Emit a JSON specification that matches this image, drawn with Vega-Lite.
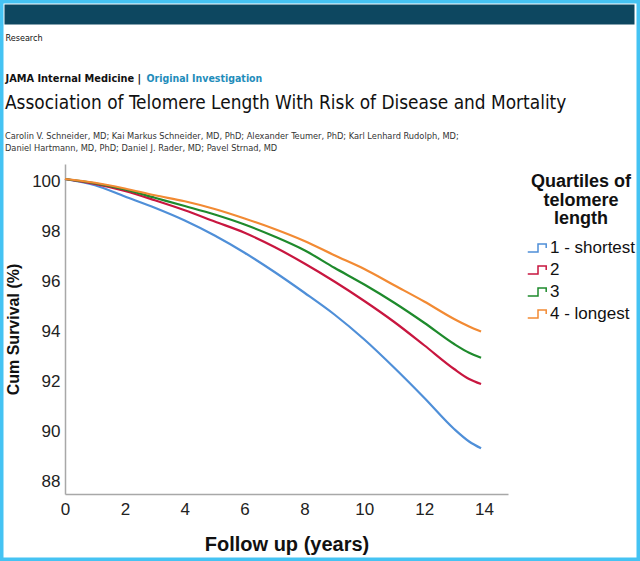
{
  "$schema": "https://vega.github.io/schema/vega-lite/v6.json",
  "width": 640,
  "height": 561,
  "padding": 0,
  "autosize": {"type": "none"},
  "background": "white",
  "view": {"stroke": "#45c3f3", "strokeWidth": 7, "fill": "white"},
  "title": {
    "text": "Association of Telomere Length With Risk of Disease and Mortality",
    "subtitle": ["Carolin V. Schneider, MD; Kai Markus Schneider, MD, PhD; Alexander Teumer, PhD; Karl Lenhard Rudolph, MD;", "Daniel Hartmann, MD, PhD; Daniel J. Rader, MD; Pavel Strnad, MD"],
    "anchor": "start",
    "frame": "group",
    "orient": "top",
    "offset": -153,
    "dx": 5,
    "font": "Liberation Sans Narrow, DejaVu Sans Condensed, Roboto, sans-serif",
    "fontSize": 18.9,
    "fontWeight": "normal",
    "color": "#111111",
    "subtitleFont": "Liberation Sans Narrow, DejaVu Sans Condensed, Roboto, sans-serif",
    "subtitleFontSize": 9.2,
    "subtitleColor": "#333333",
    "subtitlePadding": 19,
    "subtitleLineHeight": 12
  },
  "data": {
    "values": [
      {"year": 0, "1 - shortest": 100.1, "2": 100.1, "3": 100.1, "4 - longest": 100.1},
      {"year": 1, "1 - shortest": 99.85, "2": 99.9, "3": 99.93, "4 - longest": 99.95},
      {"year": 2, "1 - shortest": 99.4, "2": 99.62, "3": 99.68, "4 - longest": 99.72},
      {"year": 3, "1 - shortest": 98.95, "2": 99.25, "3": 99.35, "4 - longest": 99.45},
      {"year": 4, "1 - shortest": 98.44, "2": 98.85, "3": 99.02, "4 - longest": 99.21},
      {"year": 5, "1 - shortest": 97.84, "2": 98.4, "3": 98.68, "4 - longest": 98.9},
      {"year": 6, "1 - shortest": 97.15, "2": 97.95, "3": 98.28, "4 - longest": 98.52},
      {"year": 7, "1 - shortest": 96.38, "2": 97.38, "3": 97.8, "4 - longest": 98.1},
      {"year": 8, "1 - shortest": 95.55, "2": 96.72, "3": 97.25, "4 - longest": 97.62},
      {"year": 9, "1 - shortest": 94.68, "2": 96.0, "3": 96.55, "4 - longest": 97.05},
      {"year": 10, "1 - shortest": 93.68, "2": 95.22, "3": 95.88, "4 - longest": 96.5},
      {"year": 11, "1 - shortest": 92.55, "2": 94.38, "3": 95.15, "4 - longest": 95.85},
      {"year": 12, "1 - shortest": 91.35, "2": 93.45, "3": 94.35, "4 - longest": 95.2},
      {"year": 13, "1 - shortest": 90.1, "2": 92.5, "3": 93.5, "4 - longest": 94.5},
      {"year": 13.5, "1 - shortest": 89.6, "2": 92.1, "3": 93.15, "4 - longest": 94.2},
      {"year": 13.9, "1 - shortest": 89.33, "2": 91.9, "3": 92.95, "4 - longest": 94.0}
    ]
  },
  "transform": [
    {"fold": ["1 - shortest", "2", "3", "4 - longest"], "as": ["quartile", "surv"]}
  ],
  "resolve": {"scale": {"x": "independent", "y": "independent"}, "axis": {"x": "independent", "y": "independent"}},
  "layer": [
    {
      "mark": {"type": "line", "strokeWidth": 2.2, "interpolate": "monotone"},
      "encoding": {
        "x": {
          "field": "year", "type": "quantitative",
          "scale": {"domain": [0, 14.8], "range": [65, 508], "nice": false, "zero": false},
          "axis": {
            "orient": "bottom", "offset": -67, "values": [0, 2, 4, 6, 8, 10, 12, 14],
            "grid": false, "ticks": false, "labelFlush": false,
            "domainColor": "#a8a8a8", "domainWidth": 1.5,
            "labelFont": "Liberation Sans", "labelFontSize": 17, "labelColor": "#222222", "labelPadding": 7,
            "title": "Follow up (years)", "titleFont": "Liberation Sans", "titleFontSize": 20, "titleFontWeight": "bold", "titleColor": "#111111", "titlePadding": 17
          }
        },
        "y": {
          "field": "surv", "type": "quantitative",
          "scale": {"domain": [87.5, 100.7], "range": [494, 164], "nice": false, "zero": false},
          "axis": {
            "orient": "left", "offset": -65, "values": [88, 90, 92, 94, 96, 98, 100],
            "grid": false, "ticks": false,
            "domainColor": "#a8a8a8", "domainWidth": 1.5,
            "labelFont": "Liberation Sans", "labelFontSize": 17, "labelColor": "#222222", "labelPadding": 5,
            "title": "Cum Survival (%)", "titleFont": "Liberation Sans", "titleFontSize": 16, "titleFontWeight": "bold", "titleColor": "#111111", "titlePadding": 10
          }
        },
        "color": {
          "field": "quartile", "type": "nominal",
          "scale": {"domain": ["1 - shortest", "2", "3", "4 - longest"], "range": ["#4f8fd8", "#c8163f", "#1e8a2c", "#f28a33"]},
          "legend": {
            "orient": "none", "legendX": 527, "legendY": 173,
            "title": ["Quartiles of", "telomere", "length"],
            "titleFont": "Liberation Sans", "titleFontSize": 18, "titleFontWeight": "bold", "titleColor": "#111111",
            "titleAlign": "center", "titleAnchor": "middle", "titleLineHeight": 18.5, "titlePadding": 9,
            "labelFont": "Liberation Sans", "labelFontSize": 17, "labelColor": "#111111", "labelOffset": 1,
            "symbolType": "M-1,0.4L0,0.4L0,-0.4L0.8,-0.4L0.8,0", "symbolSize": 420, "symbolStrokeWidth": 1.5,
            "symbolFillColor": "transparent", "rowPadding": 3, "padding": 0
          }
        }
      }
    },
    {
      "mark": {"type": "point", "opacity": 0},
      "encoding": {
        "x": {
          "field": "year", "type": "quantitative",
          "scale": {"domain": [0, 14], "range": [4, 634], "nice": false, "zero": false},
          "axis": {
            "orient": "top", "offset": -14, "values": [0],
            "domain": true, "domainColor": "#0d4760", "domainWidth": 20, "domainCap": "butt",
            "grid": false, "ticks": false, "labelFlush": false,
            "labelExpr": "'Original Investigation'", "labelAlign": "left", "labelBaseline": "middle",
            "labelOffset": 142, "labelPadding": -64,
            "labelFont": "Liberation Sans Narrow, DejaVu Sans Condensed, Roboto, sans-serif", "labelFontSize": 10.5, "labelFontWeight": "bold", "labelColor": "#1f8dbb",
            "title": "Research", "titleX": 5, "titleY": 23, "titleAlign": "left", "titleBaseline": "middle", "titleAngle": 0,
            "titleFont": "Liberation Sans Narrow, DejaVu Sans Condensed, Roboto, sans-serif", "titleFontSize": 9, "titleFontWeight": "normal", "titleColor": "#111111"
          }
        },
        "y": {
          "field": "surv", "type": "quantitative",
          "scale": {"domain": [87.5, 100.7], "range": [494, 164], "nice": false, "zero": false},
          "axis": {
            "orient": "right", "offset": -640,
            "domain": false, "grid": false, "ticks": false, "labels": false,
            "title": "JAMA Internal Medicine  |", "titleX": 5, "titleY": 78, "titleAlign": "left", "titleBaseline": "middle", "titleAngle": 0,
            "titleFont": "Liberation Sans Narrow, DejaVu Sans Condensed, Roboto, sans-serif", "titleFontSize": 10.9, "titleFontWeight": "bold", "titleColor": "#111111"
          }
        }
      }
    }
  ]
}
